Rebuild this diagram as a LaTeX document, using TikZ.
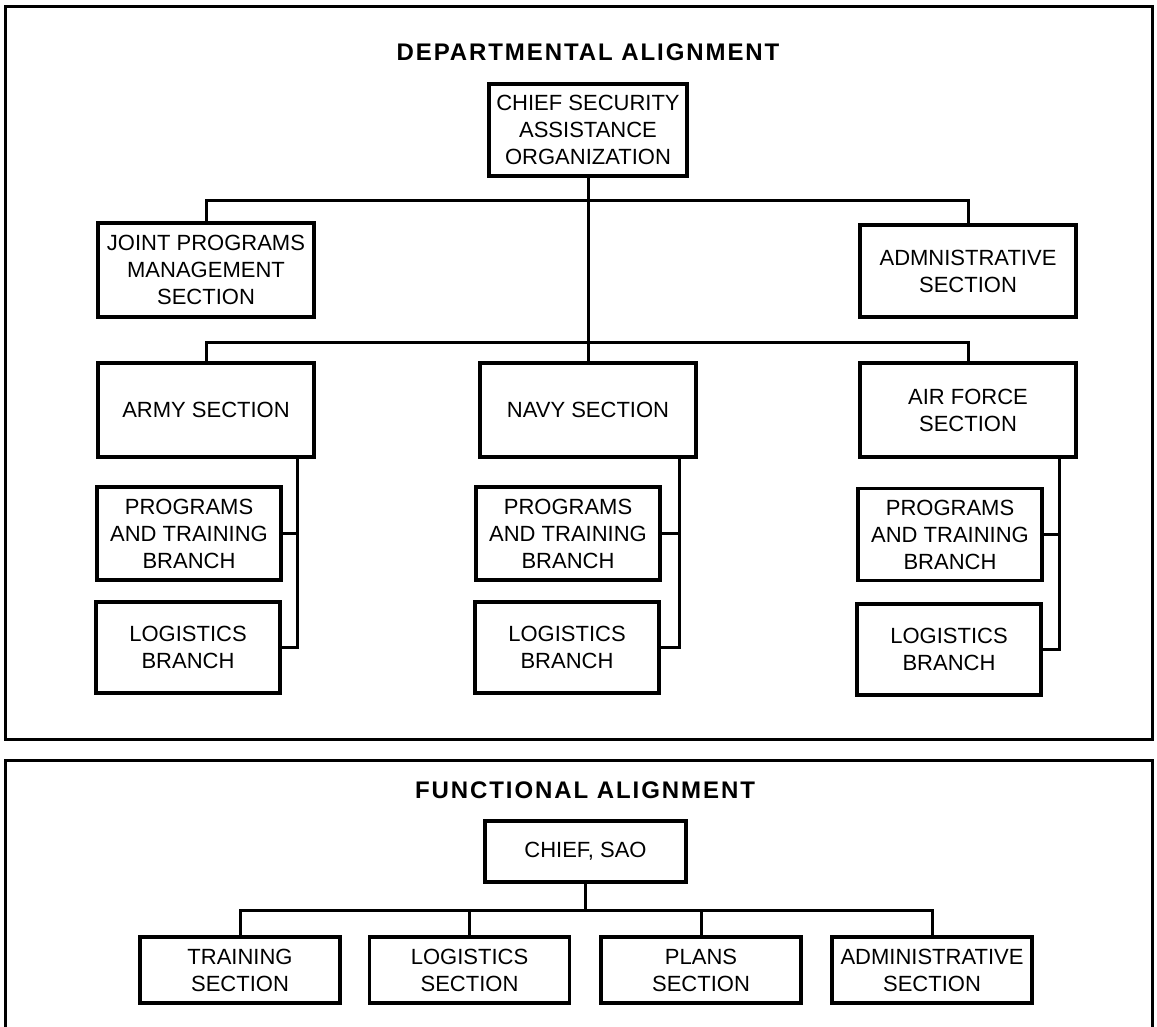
\documentclass[tikz,border=0pt]{standalone}
\usepackage{fontspec}
\setmainfont{Liberation Sans}
\newfontfamily\titlefont[LetterSpace=8]{Liberation Sans}
\begin{document}
\begin{tikzpicture}[x=1pt,y=-1pt,
  box/.style={draw, line width=3.5pt, inner sep=0pt, align=center, fill=white,
    font=\fontsize{22}{27}\selectfont},
  secbox/.style={box, minimum width=216pt, minimum height=94pt},
  brbox/.style={box, minimum width=184pt, minimum height=92pt},
  fbox/.style={box, minimum width=200pt, minimum height=66pt},
  conn/.style={line width=3pt},
  frame/.style={line width=3pt},
  ttl/.style={font=\titlefont\bfseries\fontsize{24}{28}\selectfont}]
\useasboundingbox (0,0) rectangle (1157,1027);

% ---------- top panel ----------
\draw[frame] (5,7) rectangle (1152,739);
\node[ttl] (t1) at (588,52) {DEPARTMENTAL ALIGNMENT};

\node[box, minimum width=198pt, minimum height=92pt] (chief) at (588,130)
  {CHIEF SECURITY\\ASSISTANCE\\ORGANIZATION};
\node[secbox] (jpm) at (206,270) {JOINT PROGRAMS\\MANAGEMENT\\SECTION};
\node[secbox, minimum height=92pt] (admin) at (968,271) {ADMNISTRATIVE\\SECTION};

\node[secbox] (army) at (206,410) {ARMY SECTION};
\node[secbox] (navy) at (588,410) {NAVY SECTION};
\node[secbox] (af) at (968,410) {AIR FORCE\\SECTION};

\node[brbox, minimum height=93pt] (aprog) at (189,533.5) {PROGRAMS\\AND TRAINING\\BRANCH};
\node[brbox, minimum height=91pt] (alog) at (188,647.5) {LOGISTICS\\BRANCH};
\node[brbox, minimum height=93pt] (nprog) at (568,533.5) {PROGRAMS\\AND TRAINING\\BRANCH};
\node[brbox, minimum height=91pt] (nlog) at (567,647.5) {LOGISTICS\\BRANCH};
\node[brbox, minimum height=92pt] (fprog) at (950,534.5) {PROGRAMS\\AND TRAINING\\BRANCH};
\node[brbox, minimum height=91pt] (flog) at (949,649.5) {LOGISTICS\\BRANCH};

\coordinate (b1) at (588,201);
\coordinate (b2) at (588,342);
\draw[conn] (chief.south) -- (navy.north);
\draw[conn] (jpm.north) |- (b1) -| (admin.north);
\draw[conn] (army.north) |- (b2) -| (af.north);

\coordinate (ax) at ([xshift=-18.5pt]army.south east);
\coordinate (nx) at ([xshift=-18.5pt]navy.south east);
\coordinate (fx) at ([xshift=-18.5pt]af.south east);
\draw[conn] (ax) |- (alog.east);
\draw[conn] (aprog.east) -- (aprog.east -| ax);
\draw[conn] (nx) |- (nlog.east);
\draw[conn] (nprog.east) -- (nprog.east -| nx);
\draw[conn] (fx) |- (flog.east);
\draw[conn] (fprog.east) -- (fprog.east -| fx);

% ---------- bottom panel ----------
\draw[frame] (5,1032) -- (5,760) -- (1152,760) -- (1152,1032);
\node[ttl] (t2) at (585,790) {FUNCTIONAL ALIGNMENT};

\node[box, minimum width=201pt, minimum height=61pt] (sao) at (585.5,851.5) {CHIEF, SAO};
\node[fbox] (train) at (240,970) {TRAINING\\SECTION};
\node[fbox] (blog) at (469.5,970) {LOGISTICS\\SECTION};
\node[fbox] (plans) at (701,970) {PLANS\\SECTION};
\node[fbox] (badmin) at (932,970) {ADMINISTRATIVE\\SECTION};

\coordinate (b3) at (585.5,910);
\draw[conn] (sao.south) -- (b3);
\draw[conn] (train.north) |- (b3) -| (badmin.north);
\draw[conn] (blog.north) -- (blog.north |- b3);
\draw[conn] (plans.north) -- (plans.north |- b3);
\end{tikzpicture}
\end{document}
